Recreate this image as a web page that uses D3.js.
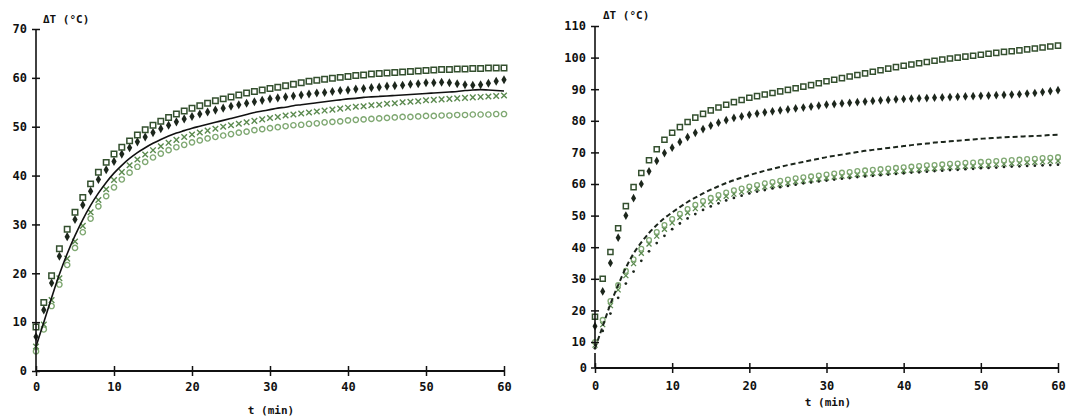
<!DOCTYPE html>
<html><head><meta charset="utf-8">
<script src="https://cdn.jsdelivr.net/npm/d3@7"></script>
<style>
html,body{margin:0;padding:0;background:#fff;}
svg{display:block;}
text{font-family:"DejaVu Sans Mono",monospace;font-weight:bold;fill:#111;}
</style></head>
<body>
<svg id="c" width="1071" height="419"></svg>
<script>
// time axis (min), one sample per minute
const times = d3.range(0, 61);
const xTicks = [0,10,20,30,40,50,60];
const yTicksL = [0,10,20,30,40,50,60,70];
const yTicksR = [10,20,30,40,50,60,70,80,90,100,110];
const yZeroR = "0";
const yLabel = "ΔT (°C)";
const xLabel = "t (min)";

// ---- left panel ----
const L_squares = [9,14,19.5,25,29,32.5,35.5,38.3,40.7,42.7,44.4,45.8,47.1,48.3,49.4,50.3,51.1,51.9,52.6,53.2,53.8,54.3,54.8,55.3,55.7,56.1,56.5,56.9,57.2,57.5,57.8,58.1,58.4,58.7,59.0,59.3,59.5,59.7,59.9,60.1,60.3,60.5,60.6,60.8,60.9,61.0,61.1,61.2,61.3,61.4,61.5,61.6,61.7,61.7,61.8,61.8,61.9,61.9,62.0,62.0,62.0];
const L_diamonds = [7,12.5,18,23.5,27.5,31,34,36.8,39.2,41.2,42.9,44.4,45.7,46.9,47.9,48.8,49.6,50.3,51,51.6,52.1,52.6,53.0,53.4,53.8,54.2,54.5,54.8,55.1,55.4,55.7,55.9,56.1,56.3,56.5,56.7,56.9,57.0,57.2,57.4,57.5,57.7,57.8,58.0,58.1,58.3,58.4,58.5,58.7,58.8,59.0,59.0,59.1,59.0,58.8,58.6,58.5,58.6,58.9,59.3,59.6];
const L_line = [5,10,15,19.8,24,27.7,31,33.9,36.4,38.6,40.5,42.1,43.5,44.7,45.7,46.6,47.4,48.1,48.7,49.2,49.7,50.1,50.5,50.9,51.3,51.7,52.1,52.5,52.9,53.2,53.5,53.8,54.0,54.3,54.5,54.7,54.9,55.1,55.3,55.5,55.7,55.8,56.0,56.1,56.2,56.3,56.4,56.5,56.6,56.7,56.8,56.9,57.0,57.1,57.2,57.4,57.5,57.6,57.5,57.4,57.3];
const L_crosses = [5,9.5,14.5,19,23,26.5,29.7,32.5,35,37.2,39.1,40.7,42.1,43.3,44.3,45.2,46,46.7,47.3,47.9,48.4,48.8,49.2,49.6,50.0,50.3,50.6,50.9,51.2,51.5,51.8,52.0,52.3,52.5,52.7,52.9,53.1,53.3,53.5,53.7,53.9,54.1,54.2,54.4,54.5,54.7,54.8,55.0,55.1,55.2,55.4,55.5,55.6,55.7,55.8,55.9,56.0,56.1,56.2,56.3,56.4];
const L_circles = [4,8.5,13.3,17.7,21.7,25.2,28.4,31.2,33.7,35.8,37.6,39.2,40.6,41.8,42.8,43.7,44.5,45.2,45.8,46.3,46.8,47.2,47.6,47.9,48.2,48.5,48.8,49.0,49.3,49.5,49.7,49.9,50.1,50.3,50.4,50.6,50.7,50.9,51.0,51.1,51.3,51.4,51.5,51.6,51.7,51.8,51.9,52.0,52.0,52.1,52.2,52.2,52.3,52.3,52.4,52.4,52.5,52.5,52.5,52.6,52.6];

// ---- right panel ----
const R_squares = [18,30,38.5,46,53,59,63.5,67.5,71,74,76.2,78,79.6,81,82.2,83.3,84.2,85.1,85.9,86.6,87.3,87.8,88.3,88.8,89.3,89.8,90.3,90.8,91.3,91.9,92.5,93.0,93.5,94.0,94.5,95.0,95.5,96.0,96.5,97.0,97.4,97.8,98.2,98.6,99.0,99.4,99.7,100.0,100.3,100.6,100.9,101.2,101.5,101.8,102.0,102.3,102.6,102.9,103.2,103.5,103.8];
const R_diamonds = [15,26,35,43,50,55.5,60,64,67.3,69.8,71.5,73.3,74.8,76.2,77.4,78.5,79.4,80.2,80.9,81.4,81.9,82.3,82.7,83.0,83.3,83.6,83.9,84.2,84.5,84.8,85.1,85.3,85.5,85.7,85.9,86.1,86.3,86.5,86.6,86.8,86.9,87.0,87.1,87.2,87.3,87.4,87.5,87.6,87.7,87.8,87.9,88.0,88.1,88.2,88.3,88.4,88.6,88.8,89.1,89.4,89.7];
const R_dashed = [8,15,22,28,33.5,38,41.5,44.5,47,49.2,51,52.7,54.3,55.7,57,58.2,59.3,60.3,61.2,62.0,62.8,63.5,64.2,64.8,65.4,66.0,66.5,67.0,67.5,68.0,68.5,68.9,69.3,69.7,70.1,70.5,70.8,71.1,71.4,71.7,72.0,72.3,72.6,72.8,73.1,73.3,73.5,73.7,73.9,74.1,74.3,74.5,74.6,74.8,74.9,75.0,75.1,75.2,75.3,75.5,75.6];
const R_circles = [10,17,23,28,32.5,36.2,39.5,42.3,44.8,47,48.9,50.6,52.1,53.4,54.6,55.6,56.5,57.3,58,58.6,59.2,59.7,60.2,60.6,61.0,61.4,61.8,62.1,62.4,62.7,63.0,63.3,63.6,63.8,64.1,64.3,64.5,64.7,64.9,65.1,65.3,65.5,65.7,65.9,66.0,66.2,66.4,66.5,66.7,66.8,67.0,67.1,67.3,67.4,67.6,67.7,67.9,68.0,68.2,68.3,68.5];
const R_crosses = [9,15.5,21.5,26.5,31,34.8,38.1,41,43.5,45.7,47.7,49.4,50.9,52.2,53.4,54.4,55.3,56.1,56.8,57.5,58.1,58.6,59.1,59.5,59.9,60.3,60.7,61.0,61.3,61.6,61.9,62.2,62.5,62.7,63.0,63.2,63.4,63.6,63.8,64.0,64.2,64.4,64.6,64.8,64.9,65.1,65.3,65.4,65.6,65.7,65.9,66.0,66.2,66.3,66.5,66.6,66.8,66.9,67.0,67.2,67.3];
const R_dots = [8,13.5,19,24,28.5,32.3,35.7,38.7,41.3,43.6,45.7,47.5,49.1,50.5,51.8,52.9,53.9,54.8,55.6,56.3,57.0,57.6,58.1,58.6,59.0,59.4,59.8,60.2,60.5,60.8,61.1,61.4,61.7,61.9,62.2,62.4,62.6,62.8,63.0,63.2,63.4,63.6,63.7,63.9,64.1,64.2,64.4,64.5,64.7,64.8,65.0,65.1,65.2,65.4,65.5,65.6,65.7,65.8,65.9,66.0,66.1];

const svg = d3.select("#c");

function symbolPath(type, size){ return d3.symbol().type(type).size(size)(); }

function drawMarkers(g, x, y, vals, opt){
  const pts = times.map((t,i)=>({t, v: vals[i]}));
  if (opt.kind === "line") {
    g.append("path").datum(pts)
      .attr("d", d3.line().x(d=>x(d.t)).y(d=>y(d.v)).curve(d3.curveMonotoneX))
      .attr("fill","none").attr("stroke",opt.color).attr("stroke-width",opt.width||1.6)
      .attr("stroke-dasharray", opt.dash || null);
    return;
  }
  const p = symbolPath(opt.type, opt.size);
  g.selectAll(null).data(pts).enter().append("path")
    .attr("transform", d=>`translate(${x(d.t)},${y(d.v)})`)
    .attr("d", p)
    .attr("fill", opt.fill ? opt.color : "none")
    .attr("stroke", opt.fill ? "none" : opt.color)
    .attr("stroke-width", opt.sw || 1.4);
}

function panel(cfg){
  const g = svg.append("g");
  const x = d3.scaleLinear().domain([0,60]).range(cfg.xr);
  const y = d3.scaleLinear().domain(cfg.yd).range(cfg.yr);

  cfg.series.forEach(s => drawMarkers(g, x, y, s.vals, s));

  // y axis
  const ya = g.append("g").attr("transform", `translate(${cfg.xr[0]},0)`)
    .call(d3.axisLeft(y).tickValues(cfg.yTicks).tickSize(4).tickPadding(5).tickFormat(d3.format("d")));
  ya.select(".domain").remove();
  ya.selectAll(".tick line").attr("x1",-4).attr("x2",4).attr("stroke","#111").attr("stroke-width",1.5);
  ya.selectAll(".tick text").attr("font-size",12).attr("font-family","DejaVu Sans Mono").attr("font-weight","bold").attr("fill","#111");
  const yTop = y(cfg.yTicks[cfg.yTicks.length-1]);
  if (cfg.breakAt !== undefined) {
    const yb = y(cfg.breakAt);
    g.append("line").attr("x1",cfg.xr[0]).attr("x2",cfg.xr[0]).attr("y1",yTop).attr("y2",yb+4).attr("stroke","#111").attr("stroke-width",1.6);
    g.append("line").attr("x1",cfg.xr[0]).attr("x2",cfg.xr[0]).attr("y1",yb+11).attr("y2",cfg.xAxisY).attr("stroke","#111").attr("stroke-width",1.6);
    g.append("line").attr("x1",cfg.xr[0]-4).attr("x2",cfg.xr[0]+2).attr("y1",cfg.xAxisY).attr("y2",cfg.xAxisY).attr("stroke","#111").attr("stroke-width",1.5);
  } else {
    g.append("line").attr("x1",cfg.xr[0]).attr("x2",cfg.xr[0]).attr("y1",yTop).attr("y2",cfg.xAxisY).attr("stroke","#111").attr("stroke-width",1.6);
  }

  // x axis
  const xa = g.append("g").attr("transform", `translate(0,${cfg.xAxisY})`)
    .call(d3.axisBottom(x).tickValues(xTicks).tickSize(5).tickPadding(cfg.xPad).tickFormat(d3.format("d")));
  xa.select(".domain").attr("stroke","#111").attr("stroke-width",1.8).attr("d", `M${cfg.xr[0]},0H${cfg.xr[1]}`);
  xa.selectAll(".tick line").attr("y1",-5).attr("y2",5).attr("stroke","#111").attr("stroke-width",1.5);
  xa.selectAll(".tick text").attr("font-size",12).attr("font-family","DejaVu Sans Mono").attr("font-weight","bold").attr("fill","#111");

  if (cfg.breakAt !== undefined) {
    svg.append("text").attr("x",cfg.xr[0]-8).attr("y",cfg.xAxisY+4)
      .attr("text-anchor","end").attr("font-size",12)
      .style("font-family","DejaVu Sans Mono").style("font-weight","bold").style("fill","#111")
      .text(yZeroR);
  }

  g.append("text").attr("x",cfg.yLabelPos[0]).attr("y",cfg.yLabelPos[1]).attr("font-size",11).text(yLabel);
  g.append("text").attr("x",cfg.xLabelPos[0]).attr("y",cfg.xLabelPos[1]).attr("font-size",11).attr("text-anchor","middle").text(xLabel);
}

const dark = "#1c261c", green = "#5b8a4f", mid = "#34502f", light = "#7fa872";
const symX = d3.symbolX || d3.symbolTimes || d3.symbolCross;

panel({
  xr:[36,504], yd:[0,70], yr:[371,29], yTicks:yTicksL, xAxisY:371, xPad:6,
  yLabelPos:[43,23], xLabelPos:[271,414],
  series:[
    {vals:L_circles, type:d3.symbolCircle, size:22, color:light, sw:1.4},
    {vals:L_crosses, type:symX, size:22, color:green, sw:1.4},
    {vals:L_line, kind:"line", color:"#111", width:1.6},
    {vals:L_diamonds, type:d3.symbolDiamond, size:24, color:dark, fill:true},
    {vals:L_squares, type:d3.symbolSquare, size:30, color:mid, sw:1.5}
  ]
});

panel({
  xr:[595,1058], yd:[10,110], yr:[342,26], yTicks:yTicksR, xAxisY:368, xPad:8,
  yLabelPos:[603,19], xLabelPos:[828,406], breakAt:10,
  series:[
    {vals:R_dots, type:d3.symbolCircle, size:6, color:dark, fill:true},
    {vals:R_crosses, type:symX, size:18, color:green, sw:1.3},
    {vals:R_circles, type:d3.symbolCircle, size:18, color:light, sw:1.3},
    {vals:R_dashed, kind:"line", color:"#1c261c", width:2, dash:"5,3"},
    {vals:R_diamonds, type:d3.symbolDiamond, size:22, color:dark, fill:true},
    {vals:R_squares, type:d3.symbolSquare, size:26, color:mid, sw:1.5}
  ]
});
</script>
</body></html>
